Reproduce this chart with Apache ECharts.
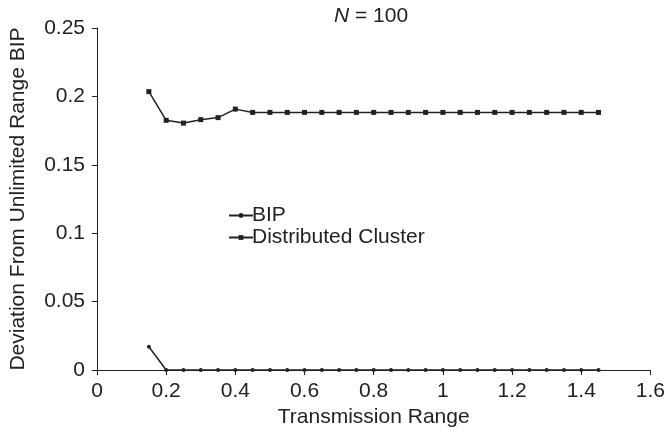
<!DOCTYPE html>
<html>
<head>
<meta charset="utf-8">
<script src="https://cdn.jsdelivr.net/npm/echarts@6/dist/echarts.min.js"></script>
<style>
  html, body { margin: 0; padding: 0; background: #fff; }
  #chart { width: 668px; height: 434px; }
</style>
</head>
<body>
<div id="chart"></div>
<script>
const ranges = [0.15, 0.2, 0.25, 0.3, 0.35, 0.4, 0.45, 0.5, 0.55, 0.6, 0.65, 0.7, 0.75, 0.8,
  0.85, 0.9, 0.95, 1, 1.05, 1.1, 1.15, 1.2, 1.25, 1.3, 1.35, 1.4, 1.45]
const bip = [0.017, 0, 0, 0, 0, 0, 0, 0, 0, 0, 0, 0, 0, 0,
  0, 0, 0, 0, 0, 0, 0, 0, 0, 0, 0, 0, 0]
const cluster = [0.2035, 0.1825, 0.1805, 0.183, 0.1845, 0.1907, 0.1883, 0.1883, 0.1883, 0.1883, 0.1883, 0.1883, 0.1883, 0.1883,
  0.1883, 0.1883, 0.1883, 0.1883, 0.1883, 0.1883, 0.1883, 0.1883, 0.1883, 0.1883, 0.1883, 0.1883, 0.1883]

const ink = '#222'
const font = 'Liberation Sans, Arial, sans-serif'
const fs = 21
const pairs = (ys) => ranges.map((x, i) => [x, ys[i]])

const chart = echarts.init(document.getElementById('chart'))
chart.setOption({
  animation: false,
  textStyle: { fontFamily: font, color: ink },
  title: {
    text: '{i|N} = 100',
    left: 366,
    top: 1,
    textAlign: 'center',
    textStyle: {
      fontSize: fs, fontWeight: 'normal', color: ink, fontFamily: font,
      rich: { i: { fontStyle: 'italic', fontSize: fs, color: ink, fontFamily: font } }
    }
  },
  grid: { left: 96, right: 15, top: 28, bottom: 64 },
  legend: {
    orient: 'vertical',
    left: 223,
    top: 200,
    itemWidth: 24,
    itemHeight: 6,
    itemGap: 1,
    textStyle: { fontSize: fs, color: ink, fontFamily: font, padding: [0, 0, 0, -6] },
    data: ['BIP', 'Distributed Cluster']
  },
  xAxis: {
    type: 'value',
    min: 0, max: 1.6, interval: 0.2,
    name: 'Transmission Range',
    nameLocation: 'middle',
    nameGap: 33,
    nameTextStyle: { fontSize: fs, color: ink, fontFamily: font },
    axisLine: { lineStyle: { color: ink, width: 1 } },
    axisTick: { length: 5, lineStyle: { color: ink } },
    axisLabel: { fontSize: fs, color: ink, margin: 11 },
    splitLine: { show: false }
  },
  yAxis: {
    type: 'value',
    min: 0, max: 0.25, interval: 0.05,
    name: 'Deviation From Unlimited Range BIP',
    nameLocation: 'middle',
    nameGap: 68,
    nameTextStyle: { fontSize: fs, color: ink, fontFamily: font },
    axisLine: { show: true, lineStyle: { color: ink, width: 1 } },
    axisTick: { show: true, length: 5, lineStyle: { color: ink } },
    axisLabel: { fontSize: fs, color: ink, margin: 12 },
    splitLine: { show: false }
  },
  series: [
    {
      name: 'BIP',
      type: 'line',
      data: pairs(bip),
      symbol: 'circle',
      symbolSize: 4,
      lineStyle: { color: ink, width: 1.5 },
      itemStyle: { color: ink }
    },
    {
      name: 'Distributed Cluster',
      type: 'line',
      data: pairs(cluster),
      symbol: 'rect',
      symbolSize: 5,
      lineStyle: { color: ink, width: 1.5 },
      itemStyle: { color: ink }
    }
  ]
})
</script>
</body>
</html>
